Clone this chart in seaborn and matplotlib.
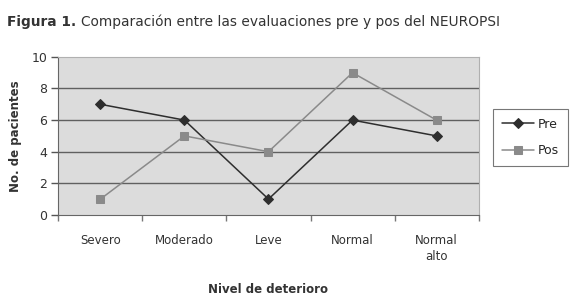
import matplotlib
matplotlib.use("Agg")
import matplotlib.pyplot as plt
import seaborn as sns
import pandas as pd

# datos
niveles = ["Severo", "Moderado", "Leve", "Normal", "Normal\nalto"]
pre = [7, 6, 1, 6, 5]
pos = [1, 5, 4, 9, 6]

df = pd.DataFrame({
    "nivel": list(range(len(niveles))) * 2,
    "pacientes": pre + pos,
    "serie": ["Pre"] * len(pre) + ["Pos"] * len(pos),
})

sns.set_style("white")
plt.rcParams["font.family"] = ["DejaVu Sans"]

fig = plt.figure(figsize=(5.78, 3.01), dpi=100)
ax = fig.add_axes([0.101, 0.286, 0.727, 0.525])
ax.set_facecolor("#dcdcdc")

colores = {"Pre": "#2e2e2e", "Pos": "#8a8a8a"}
marcas = {"Pre": "D", "Pos": "s"}
for s in ["Pre", "Pos"]:
    sub = df[df.serie == s]
    sns.lineplot(data=sub, x="nivel", y="pacientes", ax=ax, color=colores[s],
                 marker=marcas[s], markersize=5.5 if s == "Pre" else 6,
                 markeredgecolor=colores[s], linewidth=1.1, label=s)

ax.set_xlim(-0.5, len(niveles) - 0.5)
ax.set_ylim(0, 10)
ax.set_yticks(range(0, 11, 2))
for yv in [2, 4, 6, 8]:
    ax.axhline(yv, color="#606060", linewidth=1, zorder=0.5)

# etiquetas en el centro, marcas en los limites
ax.set_xticks(range(len(niveles)))
ax.set_xticklabels(niveles, fontsize=8.5, color="#333333", linespacing=1.3)
ax.set_xticks([i - 0.5 for i in range(len(niveles) + 1)], minor=True)
ax.tick_params(axis="x", which="major", bottom=False, length=0, pad=14)
ax.tick_params(axis="x", which="minor", bottom=True, length=4, width=1,
               color="#777777", direction="out")
ax.tick_params(axis="y", left=True, length=5, width=1, color="#555555", labelsize=9,
               labelcolor="#333333", pad=3, direction="out")

for side in ["top", "right"]:
    ax.spines[side].set_color("#b0b0b0")
    ax.spines[side].set_linewidth(0.8)
ax.spines["left"].set_color("#666666")
ax.spines["bottom"].set_color("#666666")

ax.set_xlabel("Nivel de deterioro", fontsize=8.5, fontweight="bold", color="#333333", labelpad=14)
ax.set_ylabel("No. de pacientes", fontsize=8.5, fontweight="bold", color="#333333", labelpad=7)

leg = ax.legend(loc="center left", bbox_to_anchor=(1.02, 0.49), frameon=True, fancybox=False,
                fontsize=9, handlelength=2.6, borderpad=0.7, labelspacing=1.1, handletextpad=0.3)
leg.get_frame().set_edgecolor("#555555")
leg.get_frame().set_linewidth(0.8)

t1 = fig.text(0.012, 0.915, "Figura 1.", fontsize=9.9, fontweight="bold", color="#333333")
fig.canvas.draw()
bb = t1.get_window_extent().transformed(fig.transFigure.inverted())
fig.text(bb.x1 + 0.008, 0.915, "Comparación entre las evaluaciones pre y pos del NEUROPSI",
         fontsize=9.9, color="#333333")

fig.savefig("out.png", dpi=100, facecolor="white")
